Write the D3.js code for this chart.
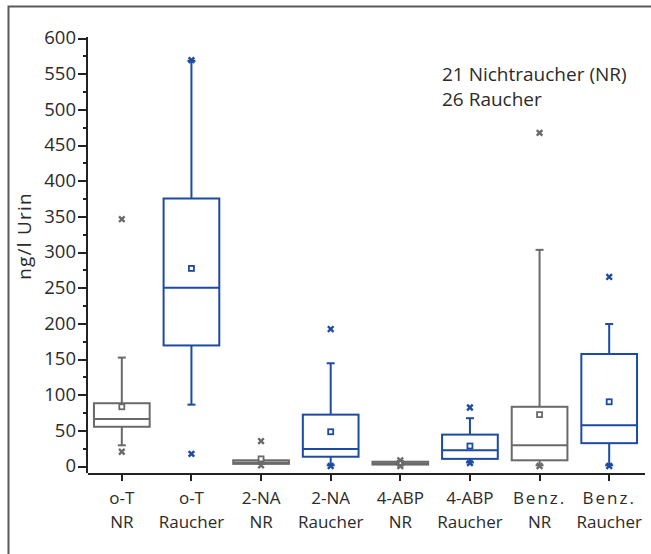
<!DOCTYPE html>
<html lang="de">
<head>
<meta charset="utf-8">
<title>ng/l Urin</title>
<script src="https://cdn.jsdelivr.net/npm/d3@7"></script>
<style>
  body { margin: 0; background: #fff; }
  svg text { font-family: "Open Sans", sans-serif; fill: #2b2b2b; }
  .axis path, .axis line { stroke: #222; shape-rendering: crispEdges; }
</style>
</head>
<body>
<script>
// categories (two-line tick labels)
var labelTop    = ["o-T", "o-T", "2-NA", "2-NA", "4-ABP", "4-ABP", "Benz.", "Benz."];
var labelBottom = ["NR", "Raucher", "NR", "Raucher", "NR", "Raucher", "NR", "Raucher"];
var group       = ["NR", "R", "NR", "R", "NR", "R", "NR", "R"];

// box statistics, ng/l
var whiskerLow  = [29, 86, 3, 1, 2, 5, 1, 1];
var q1          = [55, 169, 3, 13, 2, 10, 8, 32];
var median      = [66, 250, 5, 24, 4, 22, 29, 57];
var q3          = [88, 375, 8, 72, 6, 44, 83, 157];
var whiskerHigh = [152, 568, 8, 144, 6, 67, 303, 199];
var means       = [83, 277, 10, 48, 4, 28, 72, 90];
var outliers    = [[20, 346], [17, 569], [1, 35], [0, 192], [0, 8], [4, 82], [0, 467], [0, 265]];

var yTicks = d3.range(0, 601, 25);

var w = 651, h = 554;
var colors = { NR: "#6a6a6a", R: "#1d4aa3" };

var svg = d3.select("body").append("svg")
    .attr("width", w)
    .attr("height", h);

// frame (only top and left edges visible)
svg.append("rect")
   .attr("x", 8.5).attr("y", 6.5)
   .attr("width", 800).attr("height", 800)
   .attr("fill", "none")
   .attr("stroke", "#5a5a5a")
   .attr("stroke-width", 2);

var xScale = d3.scaleBand()
    .domain(d3.range(labelTop.length))
    .range([87, 644])
    .padding(0);

var yScale = d3.scaleLinear()
    .domain([0, 600])
    .range([466, 38]);

var axisY = 473;

// y axis
var yAxis = d3.axisLeft(yScale)
    .tickValues(yTicks)
    .tickSize(0)
    .tickFormat(function(d) { return d % 50 === 0 ? d : ""; });

var gy = svg.append("g")
   .attr("class", "axis")
   .attr("transform", "translate(87,0)")
   .call(yAxis);
gy.select(".domain").remove();
gy.selectAll(".tick line")
  .attr("x2", function(d) { return d % 50 === 0 ? -9 : -4; })
  .attr("stroke-width", 2);
gy.selectAll(".tick text")
  .attr("x", -11)
  .attr("font-size", 18.5);

svg.append("line")
   .attr("x1", 87).attr("x2", 87)
   .attr("y1", yScale(600) - 1).attr("y2", axisY)
   .attr("stroke", "#222").attr("stroke-width", 2);

// x axis
var xAxis = d3.axisBottom(xScale)
    .tickSize(8)
    .tickSizeOuter(0)
    .tickFormat("");

var gx = svg.append("g")
   .attr("class", "axis")
   .attr("transform", "translate(0," + axisY + ")")
   .call(xAxis);
gx.select(".domain").attr("stroke-width", 2);
gx.selectAll(".tick line").attr("stroke-width", 2);

gx.selectAll(".tick").append("text")
  .attr("text-anchor", "middle")
  .attr("font-size", 17)
  .attr("fill", "#2b2b2b")
  .each(function(d) {
      var t = d3.select(this);
      t.append("tspan").attr("x", 0).attr("y", 31)
       .attr("letter-spacing", labelTop[d] === "Benz." ? 2 : 0)
       .text(labelTop[d]);
      t.append("tspan").attr("x", 0).attr("y", 55).text(labelBottom[d]);
  });

// boxes
var bw = xScale.bandwidth() * 0.8;
var idx = d3.range(labelTop.length);

var boxes = svg.append("g").selectAll("g")
   .data(idx)
   .enter()
   .append("g")
   .attr("transform", function(i) { return "translate(" + (xScale(i) + xScale.bandwidth() / 2) + ",0)"; })
   .attr("stroke", function(i) { return colors[group[i]]; })
   .attr("fill", "none")
   .attr("stroke-width", 2);

// whiskers
boxes.append("line")
   .attr("y1", function(i) { return yScale(q3[i]); })
   .attr("y2", function(i) { return yScale(whiskerHigh[i]); });
boxes.append("line")
   .attr("y1", function(i) { return yScale(q1[i]); })
   .attr("y2", function(i) { return yScale(whiskerLow[i]); });
boxes.append("line")
   .attr("x1", -4).attr("x2", 4)
   .attr("y1", function(i) { return yScale(whiskerHigh[i]); })
   .attr("y2", function(i) { return yScale(whiskerHigh[i]); });
boxes.append("line")
   .attr("x1", -4).attr("x2", 4)
   .attr("y1", function(i) { return yScale(whiskerLow[i]); })
   .attr("y2", function(i) { return yScale(whiskerLow[i]); });

boxes.append("rect")
   .attr("x", -bw / 2)
   .attr("width", bw)
   .attr("y", function(i) { return yScale(q3[i]); })
   .attr("height", function(i) { return Math.max(yScale(q1[i]) - yScale(q3[i]), 1); })
   .attr("fill", "#fff");

boxes.append("line")
   .attr("x1", -bw / 2).attr("x2", bw / 2)
   .attr("y1", function(i) { return yScale(median[i]); })
   .attr("y2", function(i) { return yScale(median[i]); });

// mean marker
boxes.append("rect")
   .attr("x", -2.5).attr("width", 5)
   .attr("y", function(i) { return yScale(means[i]) - 2.5; })
   .attr("height", 5)
   .attr("fill", "#fff")
   .attr("stroke-width", 1.8);

// outliers
boxes.each(function(i) {
    d3.select(this).selectAll("path.out")
      .data(outliers[i])
      .enter()
      .append("path")
      .attr("class", "out")
      .attr("d", function(v) {
          var y = yScale(v), s = 2.8;
          return "M" + (-s) + "," + (y - s) + "L" + s + "," + (y + s) +
                 "M" + s + "," + (y - s) + "L" + (-s) + "," + (y + s);
      })
      .attr("stroke-width", 2.4);
});

// y label
svg.append("text")
   .attr("transform", "translate(31,236) rotate(-90)")
   .attr("text-anchor", "middle")
   .attr("font-size", 19)
   .attr("letter-spacing", 1.2)
   .text("ng/l Urin");

// legend
svg.append("text").attr("x", 442).attr("y", 81).attr("font-size", 19).text("21 Nichtraucher (NR)");
svg.append("text").attr("x", 442).attr("y", 106).attr("font-size", 19).text("26 Raucher");
</script>
</body>
</html>
